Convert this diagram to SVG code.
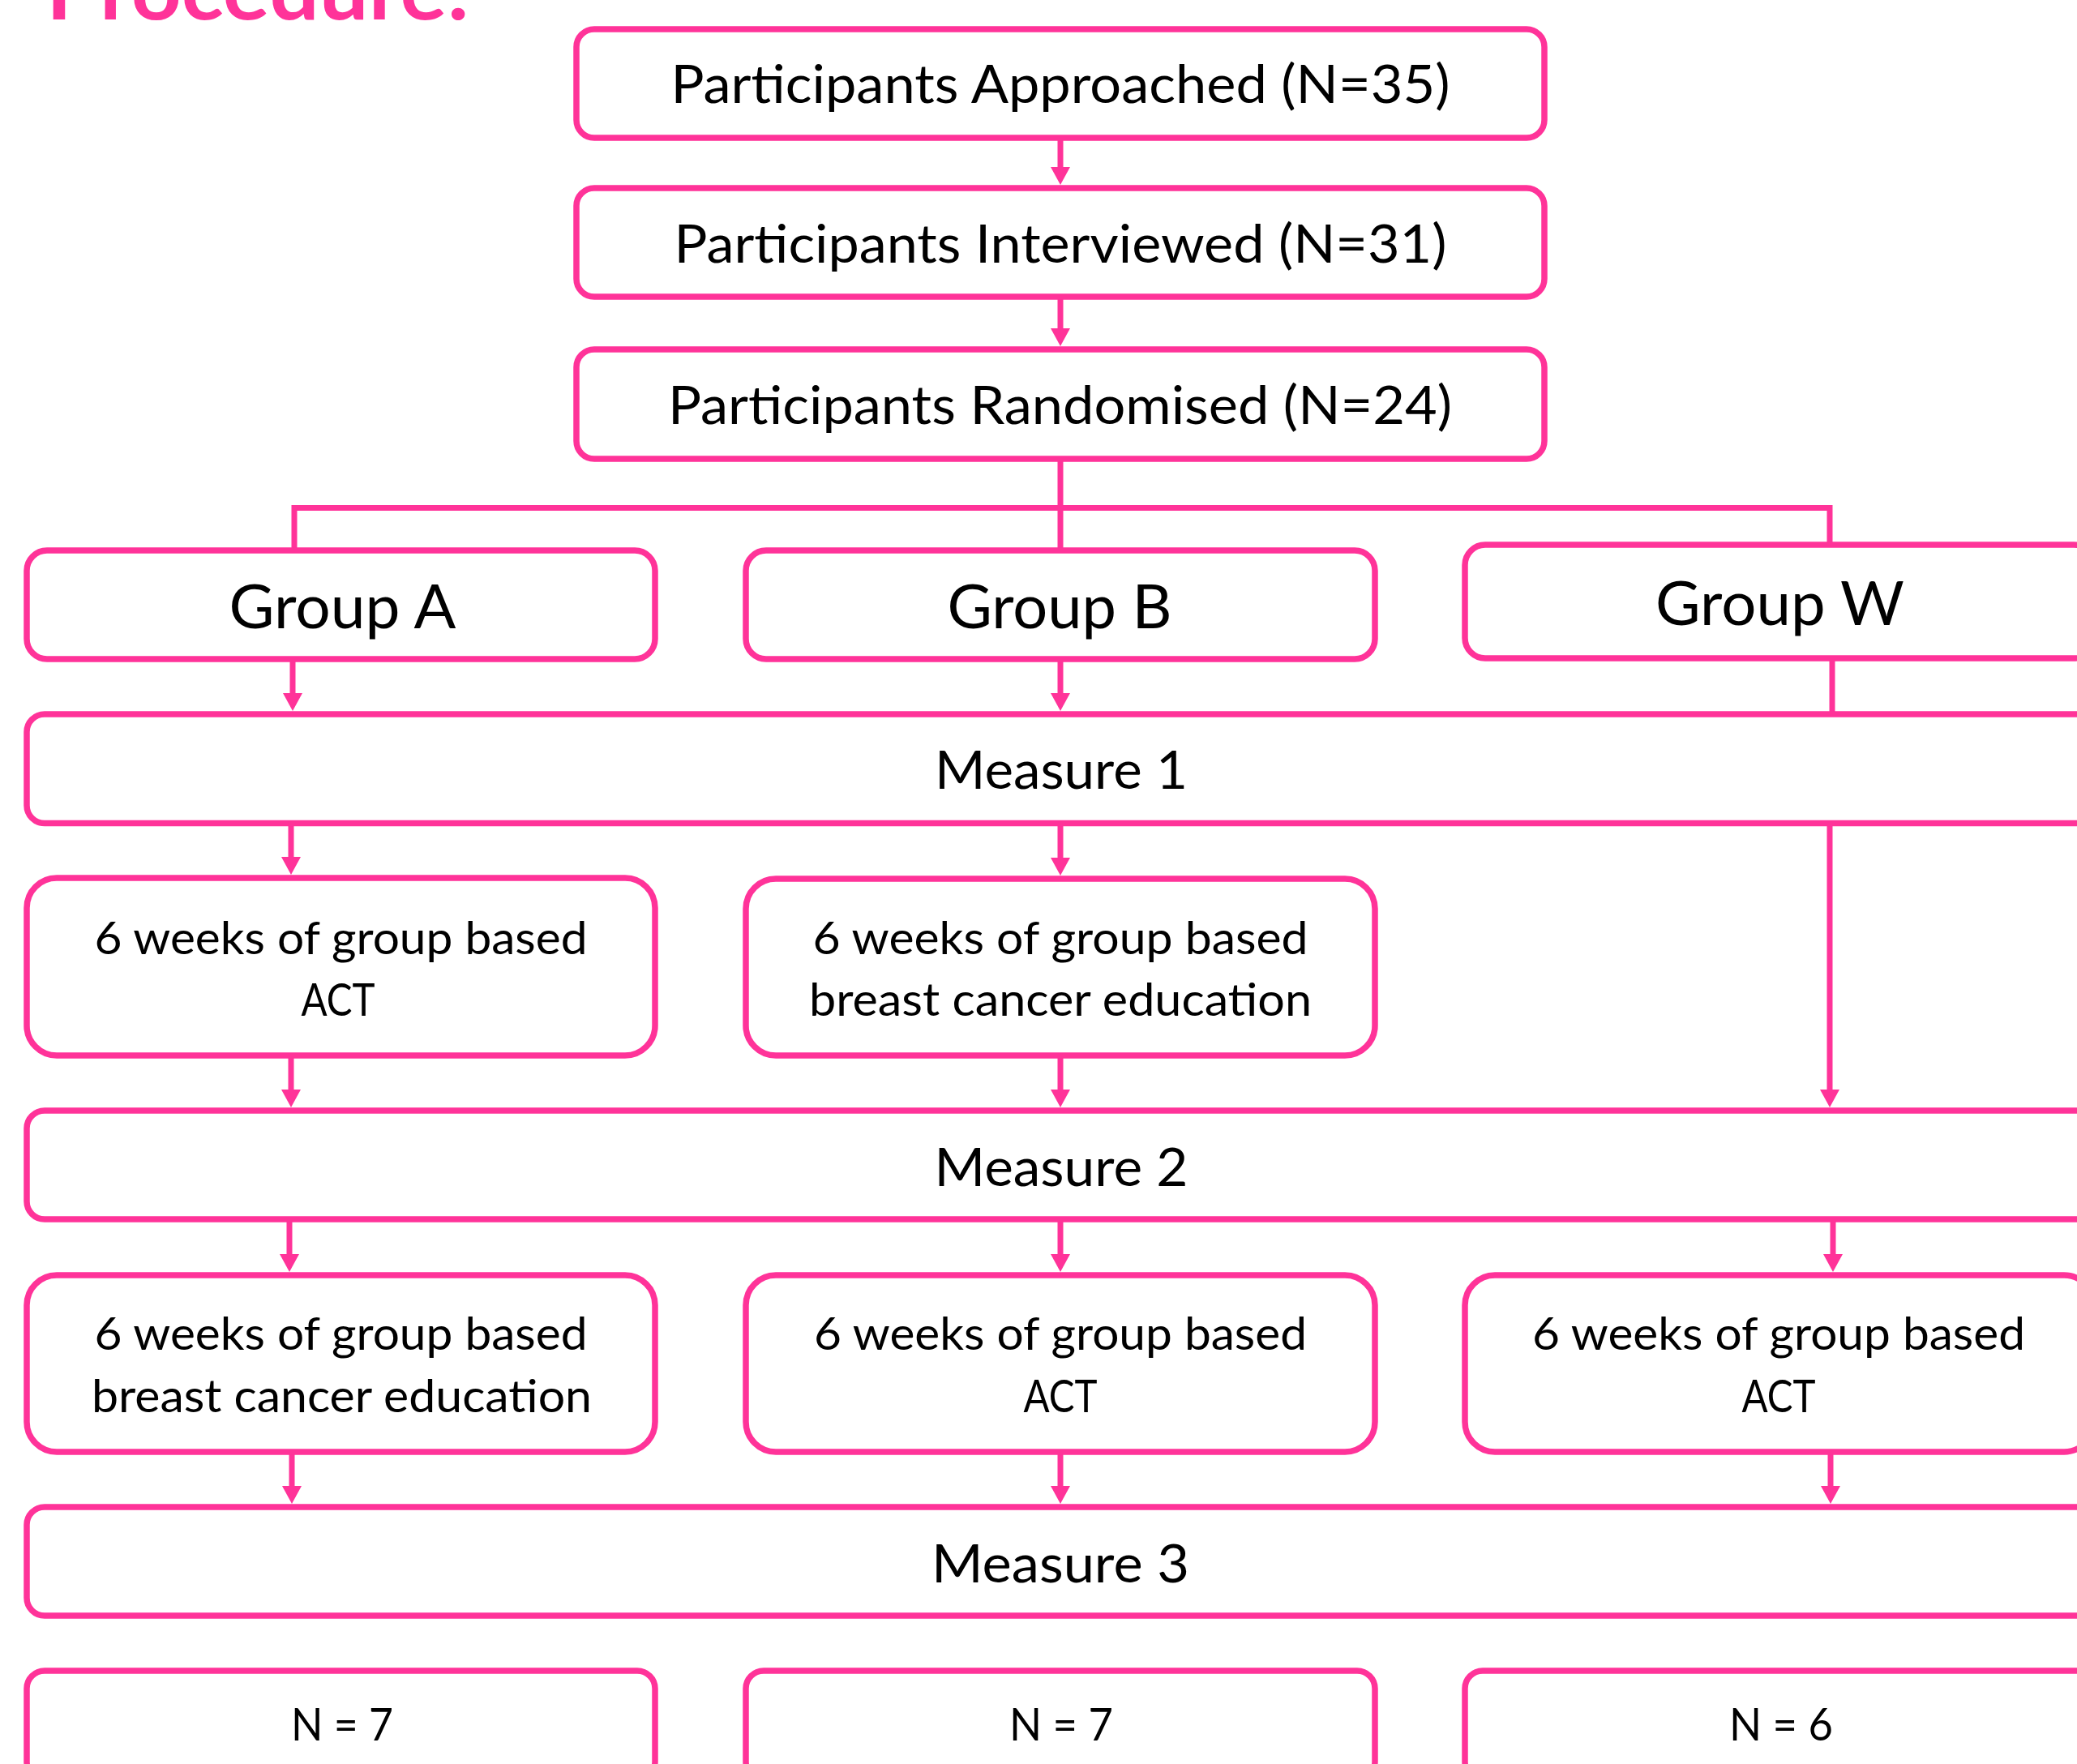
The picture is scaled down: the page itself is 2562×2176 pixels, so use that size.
<svg xmlns="http://www.w3.org/2000/svg" width="2562" height="2176" viewBox="0 0 2562 2176">
<style>
.box{fill:#fff;stroke:#FF3399;stroke-width:7.5}
.t{font-family:Lato,'Open Sans',sans-serif;fill:#000;text-anchor:middle}
.p{font-size:66px}
.g{font-size:75px}
.m{font-size:66px}
.w{font-size:57px}
.n{font-size:56px}
.c{fill:none;stroke:#FF3399;stroke-width:7}
.a{fill:none;stroke:#FF3399;stroke-width:7;marker-end:url(#ah)}
</style>
<defs>
<marker id="ah" viewBox="0 0 22 24" refX="8" refY="12" markerWidth="22" markerHeight="24" markerUnits="userSpaceOnUse" orient="auto">
<path d="M0,0 L22,12 L0,24 z" fill="#FF3399"/>
</marker>
</defs>
<rect width="2562" height="2176" fill="#fff"/>
<text x="57" y="24" font-family="Lato,'Open Sans',sans-serif" font-weight="bold" font-size="101" fill="#FF3399" textLength="522" lengthAdjust="spacingAndGlyphs">Procedure:</text>

<g id="connectors">
<line class="a" x1="1308" y1="170" x2="1308" y2="214"/>
<line class="a" x1="1308" y1="366" x2="1308" y2="413"/>
<polyline class="c" points="1308,566 1308,626.5"/>
<polyline class="c" points="363,679 363,626.5 2257,626.5 2257,672"/>
<line class="c" x1="1308" y1="626" x2="1308" y2="679"/>
<line class="a" x1="361" y1="813" x2="361" y2="863"/>
<line class="a" x1="1308" y1="813" x2="1308" y2="863"/>
<line class="c" x1="2260" y1="812" x2="2260" y2="881"/>
<line class="a" x1="359" y1="1015" x2="359" y2="1065"/>
<line class="a" x1="1308" y1="1015" x2="1308" y2="1066"/>
<line class="a" x1="2257" y1="1015" x2="2257" y2="1352"/>
<line class="a" x1="359" y1="1302" x2="359" y2="1352"/>
<line class="a" x1="1308" y1="1302" x2="1308" y2="1352"/>
<line class="a" x1="357" y1="1504" x2="357" y2="1555"/>
<line class="a" x1="1308" y1="1504" x2="1308" y2="1555"/>
<line class="a" x1="2261" y1="1504" x2="2261" y2="1555"/>
<line class="a" x1="360" y1="1791" x2="360" y2="1841"/>
<line class="a" x1="1308" y1="1791" x2="1308" y2="1841"/>
<line class="a" x1="2258" y1="1791" x2="2258" y2="1841"/>
</g>

<g id="approached">
<rect class="box" x="711" y="36" width="1194" height="134" rx="22"/>
<text class="t p" x="1308" y="127" textLength="961" lengthAdjust="spacingAndGlyphs">Participants Approached (N=35)</text>
</g>
<g id="interviewed">
<rect class="box" x="711" y="232" width="1194" height="134" rx="22"/>
<text class="t p" x="1308" y="323.5" textLength="953" lengthAdjust="spacingAndGlyphs">Participants Interviewed (N=31)</text>
</g>
<g id="randomised">
<rect class="box" x="711" y="431" width="1194" height="135" rx="22"/>
<text class="t p" x="1307.5" y="522.5" textLength="967" lengthAdjust="spacingAndGlyphs">Participants Randomised (N=24)</text>
</g>

<g id="groupA">
<rect class="box" x="33" y="679" width="775" height="134" rx="25"/>
<text class="t g" x="422.5" y="775" textLength="280" lengthAdjust="spacingAndGlyphs">Group A</text>
</g>
<g id="groupB">
<rect class="box" x="920" y="679" width="776" height="134" rx="25"/>
<text class="t g" x="1307" y="775" textLength="277" lengthAdjust="spacingAndGlyphs">Group B</text>
</g>
<g id="groupW">
<rect class="box" x="1807" y="672" width="776" height="140" rx="25"/>
<text class="t g" x="2195.5" y="771" textLength="307" lengthAdjust="spacingAndGlyphs">Group W</text>
</g>

<g id="measure1">
<rect class="box" x="33" y="881" width="2549" height="134.5" rx="22"/>
<text class="t m" x="1309" y="973" textLength="312" lengthAdjust="spacingAndGlyphs">Measure 1</text>
</g>

<g id="a1">
<rect class="box" x="33" y="1083" width="775" height="219" rx="37"/>
<text class="t w" x="420.5" y="1177" textLength="608" lengthAdjust="spacingAndGlyphs">6 weeks of group based</text>
<text class="t w" x="417" y="1253" textLength="91" lengthAdjust="spacingAndGlyphs">ACT</text>
</g>
<g id="b1">
<rect class="box" x="920" y="1084" width="776" height="218" rx="37"/>
<text class="t w" x="1308" y="1177" textLength="611" lengthAdjust="spacingAndGlyphs">6 weeks of group based</text>
<text class="t w" x="1308" y="1253" textLength="620" lengthAdjust="spacingAndGlyphs">breast cancer education</text>
</g>

<g id="measure2">
<rect class="box" x="33" y="1370" width="2549" height="134" rx="22"/>
<text class="t m" x="1309" y="1463" textLength="313" lengthAdjust="spacingAndGlyphs">Measure 2</text>
</g>

<g id="a2">
<rect class="box" x="33" y="1573" width="775" height="218" rx="37"/>
<text class="t w" x="420.5" y="1665" textLength="608" lengthAdjust="spacingAndGlyphs">6 weeks of group based</text>
<text class="t w" x="421.5" y="1742" textLength="617" lengthAdjust="spacingAndGlyphs">breast cancer education</text>
</g>
<g id="b2">
<rect class="box" x="920" y="1573" width="776" height="218" rx="37"/>
<text class="t w" x="1308" y="1665" textLength="608" lengthAdjust="spacingAndGlyphs">6 weeks of group based</text>
<text class="t w" x="1308" y="1742" textLength="91" lengthAdjust="spacingAndGlyphs">ACT</text>
</g>
<g id="w2">
<rect class="box" x="1807" y="1573" width="776" height="218" rx="37"/>
<text class="t w" x="2194" y="1665" textLength="608" lengthAdjust="spacingAndGlyphs">6 weeks of group based</text>
<text class="t w" x="2194" y="1742" textLength="91" lengthAdjust="spacingAndGlyphs">ACT</text>
</g>

<g id="measure3">
<rect class="box" x="33" y="1859" width="2549" height="134" rx="22"/>
<text class="t m" x="1308" y="1952" textLength="318" lengthAdjust="spacingAndGlyphs">Measure 3</text>
</g>

<g id="nA">
<rect class="box" x="33" y="2061" width="775" height="134" rx="22"/>
<text class="t n" x="422" y="2147" textLength="126" lengthAdjust="spacingAndGlyphs">N = 7</text>
</g>
<g id="nB">
<rect class="box" x="920" y="2061" width="776" height="134" rx="22"/>
<text class="t n" x="1309" y="2147" textLength="128" lengthAdjust="spacingAndGlyphs">N = 7</text>
</g>
<g id="nW">
<rect class="box" x="1807" y="2061" width="776" height="134" rx="22"/>
<text class="t n" x="2197" y="2147" textLength="128" lengthAdjust="spacingAndGlyphs">N = 6</text>
</g>
</svg>
